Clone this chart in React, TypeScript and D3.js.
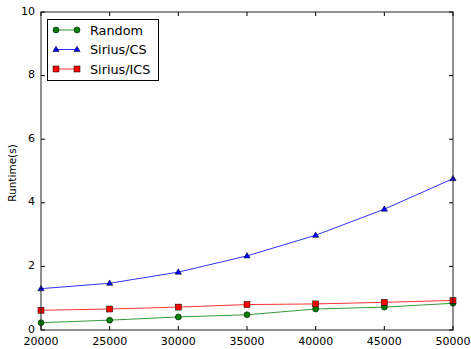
import React, { useRef, useEffect } from "react";
import * as d3 from "d3";

const sizes = [20000, 25000, 30000, 35000, 40000, 45000, 50000];
const randomRuntime = [0.23, 0.31, 0.41, 0.48, 0.66, 0.72, 0.84];
const csRuntime = [1.3, 1.47, 1.82, 2.33, 2.98, 3.8, 4.76];
const icsRuntime = [0.62, 0.66, 0.72, 0.8, 0.82, 0.87, 0.93];
const xTicks = [20000, 25000, 30000, 35000, 40000, 45000, 50000];
const yTicks = [0, 2, 4, 6, 8, 10];

const series = [
  { name: "Random", values: randomRuntime, color: "#008000", marker: "circle" },
  { name: "Sirius/CS", values: csRuntime, color: "#0000ff", marker: "triangle" },
  { name: "Sirius/ICS", values: icsRuntime, color: "#ff0000", marker: "square" },
];

const width = 471;
const height = 349;
const margin = { top: 12, right: 18, bottom: 19, left: 41 };

const App = () => {
  const ref = useRef(null);

  useEffect(() => {
    if (!ref.current) return;
    const svg = d3.select(ref.current);
    svg.selectAll("*").remove();

    const x = d3
      .scaleLinear()
      .domain([20000, 50000])
      .range([margin.left, width - margin.right]);
    const y = d3
      .scaleLinear()
      .domain([0, 10])
      .range([height - margin.bottom, margin.top]);

    const font = "DejaVu Sans, sans-serif";

    const line = d3
      .line<number>()
      .x((_, i) => x(sizes[i]))
      .y((d) => y(d));

    // matplotlib-like markers, thin black edge
    const drawMarker = (g: any, kind: string, cx: number, cy: number, color: string) => {
      if (kind === "circle") {
        g.append("circle").attr("cx", cx).attr("cy", cy).attr("r", 3)
          .attr("fill", color).attr("stroke", "#000").attr("stroke-width", 0.5);
      } else if (kind === "square") {
        g.append("rect").attr("x", cx - 3).attr("y", cy - 3)
          .attr("width", 6).attr("height", 6)
          .attr("fill", color).attr("stroke", "#000").attr("stroke-width", 0.5);
      } else {
        const sym = d3.symbol().type(d3.symbolTriangle).size(17);
        g.append("path").attr("d", sym()).attr("transform", `translate(${cx},${cy + 0.3})`)
          .attr("fill", color).attr("stroke", "#000").attr("stroke-width", 0.5);
      }
    };

    svg.append("clipPath").attr("id", "clip")
      .append("rect")
      .attr("x", margin.left - 5).attr("y", margin.top)
      .attr("width", width - margin.left - margin.right + 10)
      .attr("height", height - margin.top - margin.bottom + 5);

    const plot = svg.append("g").attr("clip-path", "url(#clip)");
    series.forEach((s) => {
      plot.append("path")
        .attr("d", line(s.values))
        .attr("fill", "none")
        .attr("stroke", s.color)
        .attr("stroke-width", 1)
        .attr("stroke-opacity", 0.8);
      s.values.forEach((v, i) => drawMarker(plot, s.marker, x(sizes[i]), y(v), s.color));
    });

    // frame
    const x0 = margin.left, x1 = width - margin.right;
    const y0 = margin.top, y1 = height - margin.bottom;
    svg.append("rect")
      .attr("x", x0).attr("y", y0).attr("width", x1 - x0).attr("height", y1 - y0)
      .attr("fill", "none").attr("stroke", "#222").attr("stroke-width", 1);

    // ticks inward on all sides
    const tickLen = 4;
    xTicks.forEach((t) => {
      const px = x(t);
      svg.append("line").attr("x1", px).attr("x2", px).attr("y1", y1).attr("y2", y1 - tickLen)
        .attr("stroke", "#000");
      svg.append("line").attr("x1", px).attr("x2", px).attr("y1", y0).attr("y2", y0 + tickLen)
        .attr("stroke", "#000");
      svg.append("text").attr("x", px).attr("y", y1 + 14.5)
        .attr("text-anchor", "middle").attr("font-family", font).attr("font-size", 11)
        .text(String(t));
    });
    yTicks.forEach((t) => {
      const py = y(t);
      svg.append("line").attr("x1", x0).attr("x2", x0 + tickLen).attr("y1", py).attr("y2", py)
        .attr("stroke", "#000");
      svg.append("line").attr("x1", x1).attr("x2", x1 - tickLen).attr("y1", py).attr("y2", py)
        .attr("stroke", "#000");
      svg.append("text").attr("x", x0 - 6).attr("y", py + 2.5)
        .attr("text-anchor", "end").attr("font-family", font).attr("font-size", 11)
        .text(String(t));
    });

    // y label
    svg.append("text")
      .attr("transform", `translate(16,${(y0 + y1) / 2 + 2}) rotate(-90)`)
      .attr("text-anchor", "middle").attr("font-family", font).attr("font-size", 10.5)
      .text("Runtime(s)");

    // legend
    const lg = svg.append("g");
    lg.append("rect").attr("x", 47.5).attr("y", 19.5).attr("width", 111).attr("height", 61)
      .attr("fill", "#fff").attr("stroke", "#000").attr("stroke-width", 1);
    series.forEach((s, i) => {
      const ly = 30 + i * 19.5;
      lg.append("line").attr("x1", 56).attr("x2", 77).attr("y1", ly).attr("y2", ly)
        .attr("stroke", s.color).attr("stroke-width", 1).attr("stroke-opacity", 0.8);
      drawMarker(lg, s.marker, 56, ly, s.color);
      drawMarker(lg, s.marker, 77, ly, s.color);
      lg.append("text").attr("x", 90).attr("y", ly + 4.5)
        .attr("font-family", font).attr("font-size", 12.8)
        .text(s.name);
    });
  }, []);

  return (
    <svg ref={ref} width={width} height={height}
      style={{ position: "absolute", left: 0, top: 0, background: "#fff" }} />
  );
};

export default App;
